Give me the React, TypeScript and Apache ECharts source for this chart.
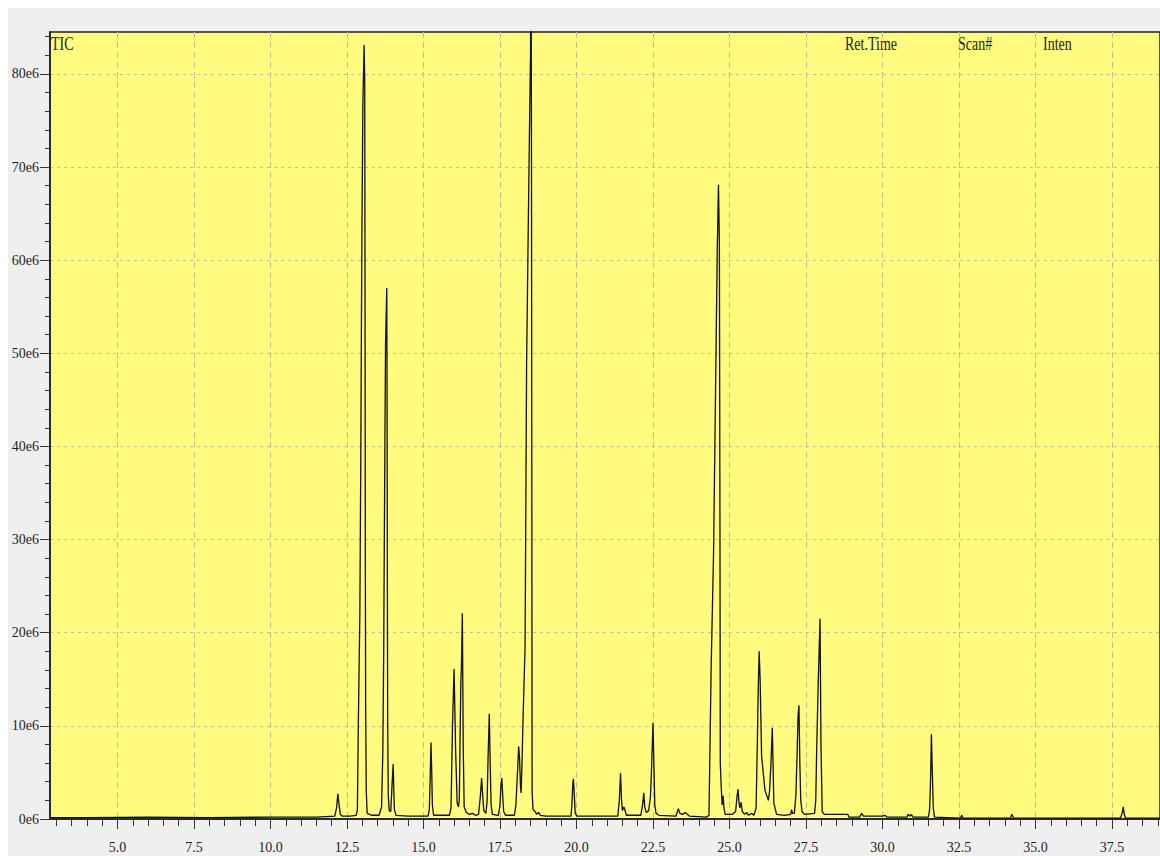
import { useEffect, useRef } from "react";
import * as echarts from "echarts";

// ---- axis ranges (minutes / intensity in units of 1e6) ----
const xMin = 2.794;
const xMax = 39.07;
const yMin = 0;
const yMax = 84.5;

// ---- tick labels ----
const xTickLabels = [5.0, 7.5, 10.0, 12.5, 15.0, 17.5, 20.0, 22.5, 25.0, 27.5, 30.0, 32.5, 35.0, 37.5];
const yTickLabels = [0, 10, 20, 30, 40, 50, 60, 70, 80];
const headerLabels = ["Ret.Time", "Scan#", "Inten"];
const traceName = "TIC";

// ---- TIC trace, [retention time (min), intensity (e6)] ----
const traceEarly = [
  [2.79, 0.15], [4.0, 0.15], [6.0, 0.2], [8.0, 0.15], [10.0, 0.2], [11.5, 0.2], [12.1, 0.3],
  [12.16, 1.2], [12.2, 2.7], [12.24, 1.6], [12.28, 0.5], [12.35, 0.3], [12.6, 0.3], [12.8, 0.4],
];
const trace13 = [
  [12.84, 1], [12.87, 10], [12.92, 22], [12.95, 38], [12.97, 52], [12.99, 64], [13.02, 77],
  [13.06, 83.1], [13.08, 79], [13.09, 55], [13.1, 28], [13.11, 12], [13.13, 3], [13.16, 0.6],
  [13.3, 0.4], [13.55, 0.4], [13.63, 1.3], [13.67, 7], [13.7, 18], [13.72, 30], [13.74, 41],
  [13.76, 51], [13.8, 57], [13.81, 45], [13.82, 25], [13.83, 10], [13.85, 2.5], [13.88, 0.9],
  [13.93, 0.8], [13.97, 3.5], [14.01, 5.9], [14.03, 3], [14.05, 1], [14.1, 0.4],
];
const trace15 = [
  [14.5, 0.3], [15.15, 0.3], [15.19, 1], [15.22, 4.5], [15.245, 8.2], [15.27, 5], [15.29, 1.5],
  [15.33, 0.4], [15.85, 0.4], [15.9, 1.2], [15.95, 10.3], [16.0, 16.1], [16.05, 7.4], [16.1, 1.7],
  [16.14, 1.3], [16.17, 2], [16.22, 14.6], [16.24, 16.3], [16.27, 22.1], [16.3, 7.4], [16.33, 1.3],
  [16.4, 0.7], [16.5, 0.5], [16.6, 0.6], [16.7, 0.4], [16.8, 0.5], [16.86, 2.5], [16.9, 4.4],
  [16.93, 2.8], [16.97, 0.9], [17.04, 0.6], [17.08, 2], [17.11, 6.5], [17.15, 11.3], [17.18, 6],
  [17.21, 1.5], [17.25, 0.5], [17.45, 0.4], [17.5, 1.5], [17.53, 3.5], [17.56, 4.4], [17.59, 2.5],
  [17.62, 0.8], [17.68, 0.4],
];
const trace18 = [
  [17.97, 0.4], [18.02, 1.5], [18.05, 3.5], [18.08, 5.5], [18.11, 7.8], [18.14, 6.5], [18.17, 3.5],
  [18.19, 2.8], [18.22, 6], [18.25, 10.3], [18.32, 18.5], [18.37, 49], [18.45, 70.5], [18.5, 82.6],
  [18.51, 110], [18.53, 70], [18.55, 3], [18.58, 1], [18.65, 0.8], [18.7, 0.5], [18.76, 0.7],
  [18.82, 0.4], [19.0, 0.3], [19.82, 0.3], [19.85, 1.5], [19.88, 3.8], [19.9, 4.3], [19.93, 2.5],
  [19.96, 0.6], [20.02, 0.3],
];
const trace21 = [
  [21.35, 0.3], [21.4, 2], [21.44, 4.9], [21.47, 2.2], [21.5, 0.9], [21.55, 1.3], [21.58, 1.0],
  [21.63, 0.4], [22.1, 0.4], [22.16, 1.5], [22.2, 2.8], [22.23, 1.3], [22.28, 0.7], [22.36, 0.9],
  [22.42, 2.5], [22.46, 6], [22.5, 10.3], [22.53, 6], [22.56, 1.5], [22.6, 0.6], [22.7, 0.4],
  [23.25, 0.3], [23.33, 1.1], [23.38, 0.6], [23.46, 0.5], [23.55, 0.7], [23.62, 0.5], [23.7, 0.3],
  [24.25, 0.2],
];
const trace25 = [
  [24.33, 0.4], [24.4, 16], [24.48, 28.6], [24.54, 44.7], [24.6, 60.8], [24.64, 68.1], [24.67, 62],
  [24.69, 30], [24.7, 6], [24.73, 3.5], [24.76, 1.5], [24.79, 2.5], [24.82, 1.2], [24.86, 0.5],
  [25.1, 0.5], [25.2, 0.8], [25.25, 2.5], [25.28, 3.2], [25.31, 1.8], [25.34, 1.2], [25.38, 1.8],
  [25.42, 0.8], [25.5, 0.5], [25.56, 0.7], [25.62, 0.4], [25.73, 0.6], [25.8, 0.4], [25.87, 1.2],
  [25.91, 8], [25.94, 14], [25.97, 18], [26.0, 15.2], [26.05, 6.7], [26.16, 3.1], [26.27, 2],
  [26.31, 3], [26.35, 5.6], [26.4, 9.8], [26.45, 1.7], [26.54, 0.5], [26.8, 0.4], [27.0, 0.5],
  [27.03, 1.0], [27.06, 0.6], [27.12, 0.6], [27.17, 2.5], [27.21, 7], [27.24, 11], [27.27, 12.2],
  [27.3, 6], [27.33, 2], [27.37, 0.8], [27.45, 0.5], [27.78, 0.6], [27.82, 2], [27.85, 7.4],
  [27.9, 14.6], [27.96, 21.5], [27.99, 8.1], [28.03, 0.8], [28.1, 0.5], [28.5, 0.5],
];
const traceLate = [
  [28.87, 0.5], [28.9, 0.2], [29.25, 0.2], [29.32, 0.6], [29.38, 0.3], [30.0, 0.3], [30.08, 0.4],
  [30.15, 0.2], [30.8, 0.2], [30.84, 0.5], [30.9, 0.3], [30.94, 0.5], [31.0, 0.2], [31.5, 0.2],
  [31.54, 1], [31.57, 4], [31.6, 9.1], [31.63, 5], [31.66, 1.2], [31.7, 0.2], [32.55, 0.1],
  [32.59, 0.4], [32.63, 0.1], [34.18, 0.1], [34.23, 0.5], [34.28, 0.1], [37.78, 0.1], [37.83, 0.6],
  [37.87, 1.3], [37.9, 0.5], [37.95, 0.1], [39.07, 0.1],
];

const trace = [...traceEarly, ...trace13, ...trace15, ...trace18, ...trace21, ...trace25, ...traceLate];

// minor tick positions (axis decoration only)
const xMinorTicks: number[] = [];
for (let i = 6; i <= 78; i++) xMinorTicks.push(i / 2);
const yMinorTicks: number[] = [];
for (let i = 1; i <= 42; i++) yMinorTicks.push(i * 2);

const FONT = "Liberation Serif";
const TEXT = "#1f1f1f";
const GRIDLINE = "#c4bf8c";

export default function App() {
  const ref = useRef<HTMLDivElement>(null);
  useEffect(() => {
    if (!ref.current) return;
    const chart = echarts.init(ref.current, undefined, { renderer: "svg" });
    const headerX = [837, 950, 1035];
    const option: any = {
      animation: false,
      backgroundColor: "#efefef",
      grid: {
        left: 42,
        top: 24,
        right: 0,
        bottom: 37,
        show: true,
        backgroundColor: "#fefb7e",
        borderColor: "#1e1e1e",
        borderWidth: 1.5,
        outerBoundsMode: "none",
      },
      xAxis: [
        {
          type: "value",
          min: xMin,
          max: xMax,
          position: "bottom",
          axisLine: { show: true, onZero: false, lineStyle: { color: "#2a2a2a", width: 2 } },
          axisTick: { show: true, customValues: xTickLabels, length: 10, lineStyle: { color: "#333" } },
          axisLabel: {
            customValues: xTickLabels,
            formatter: (v: number) => v.toFixed(1),
            margin: 21,
            fontFamily: FONT,
            fontSize: 14,
            color: TEXT,
          },
          splitLine: { show: true, lineStyle: { color: GRIDLINE, type: [6, 4], width: 1 } },
        },
        {
          type: "value",
          min: xMin,
          max: xMax,
          position: "bottom",
          axisLine: { show: false, onZero: false },
          axisTick: { show: true, customValues: xMinorTicks, length: 7, lineStyle: { color: "#333" } },
          axisLabel: { show: false },
          splitLine: { show: false },
        },
      ],
      yAxis: [
        {
          type: "value",
          min: yMin,
          max: yMax,
          position: "left",
          axisLine: { show: true, onZero: false, lineStyle: { color: "#2a2a2a", width: 2 } },
          axisTick: { show: true, customValues: yTickLabels, length: 10, lineStyle: { color: "#333" } },
          axisLabel: {
            customValues: yTickLabels,
            formatter: (v: number) => `${v}e6`,
            margin: 11,
            fontFamily: FONT,
            fontSize: 14,
            color: TEXT,
          },
          splitLine: { show: true, lineStyle: { color: GRIDLINE, type: [3, 4], width: 1 } },
        },
        {
          type: "value",
          min: yMin,
          max: yMax,
          position: "left",
          axisLine: { show: false, onZero: false },
          axisTick: { show: true, customValues: yMinorTicks, length: 5, lineStyle: { color: "#333" } },
          axisLabel: { show: false },
          splitLine: { show: false },
        },
      ],
      graphic: [
        {
          type: "text",
          x: 43,
          y: 26,
          scaleY: 1.35,
          style: { text: traceName, fontFamily: FONT, fontSize: 14, fill: TEXT, verticalAlign: "top" },
        },
        ...headerLabels.map((t, i) => ({
          type: "text",
          x: headerX[i],
          y: 26,
          scaleY: 1.35,
          style: { text: t, fontFamily: FONT, fontSize: 14, fill: TEXT, verticalAlign: "top" },
        })),
      ],
      series: [
        {
          name: traceName,
          type: "line",
          xAxisIndex: 0,
          yAxisIndex: 0,
          data: trace,
          showSymbol: false,
          symbol: "none",
          clip: true,
          lineStyle: { color: "#111", width: 1.3 },
        },
      ],
    };
    chart.setOption(option);
    return () => chart.dispose();
  }, []);
  return (
    <div
      ref={ref}
      style={{ position: "absolute", left: 8, top: 8, width: 1152, height: 848 }}
    />
  );
}
